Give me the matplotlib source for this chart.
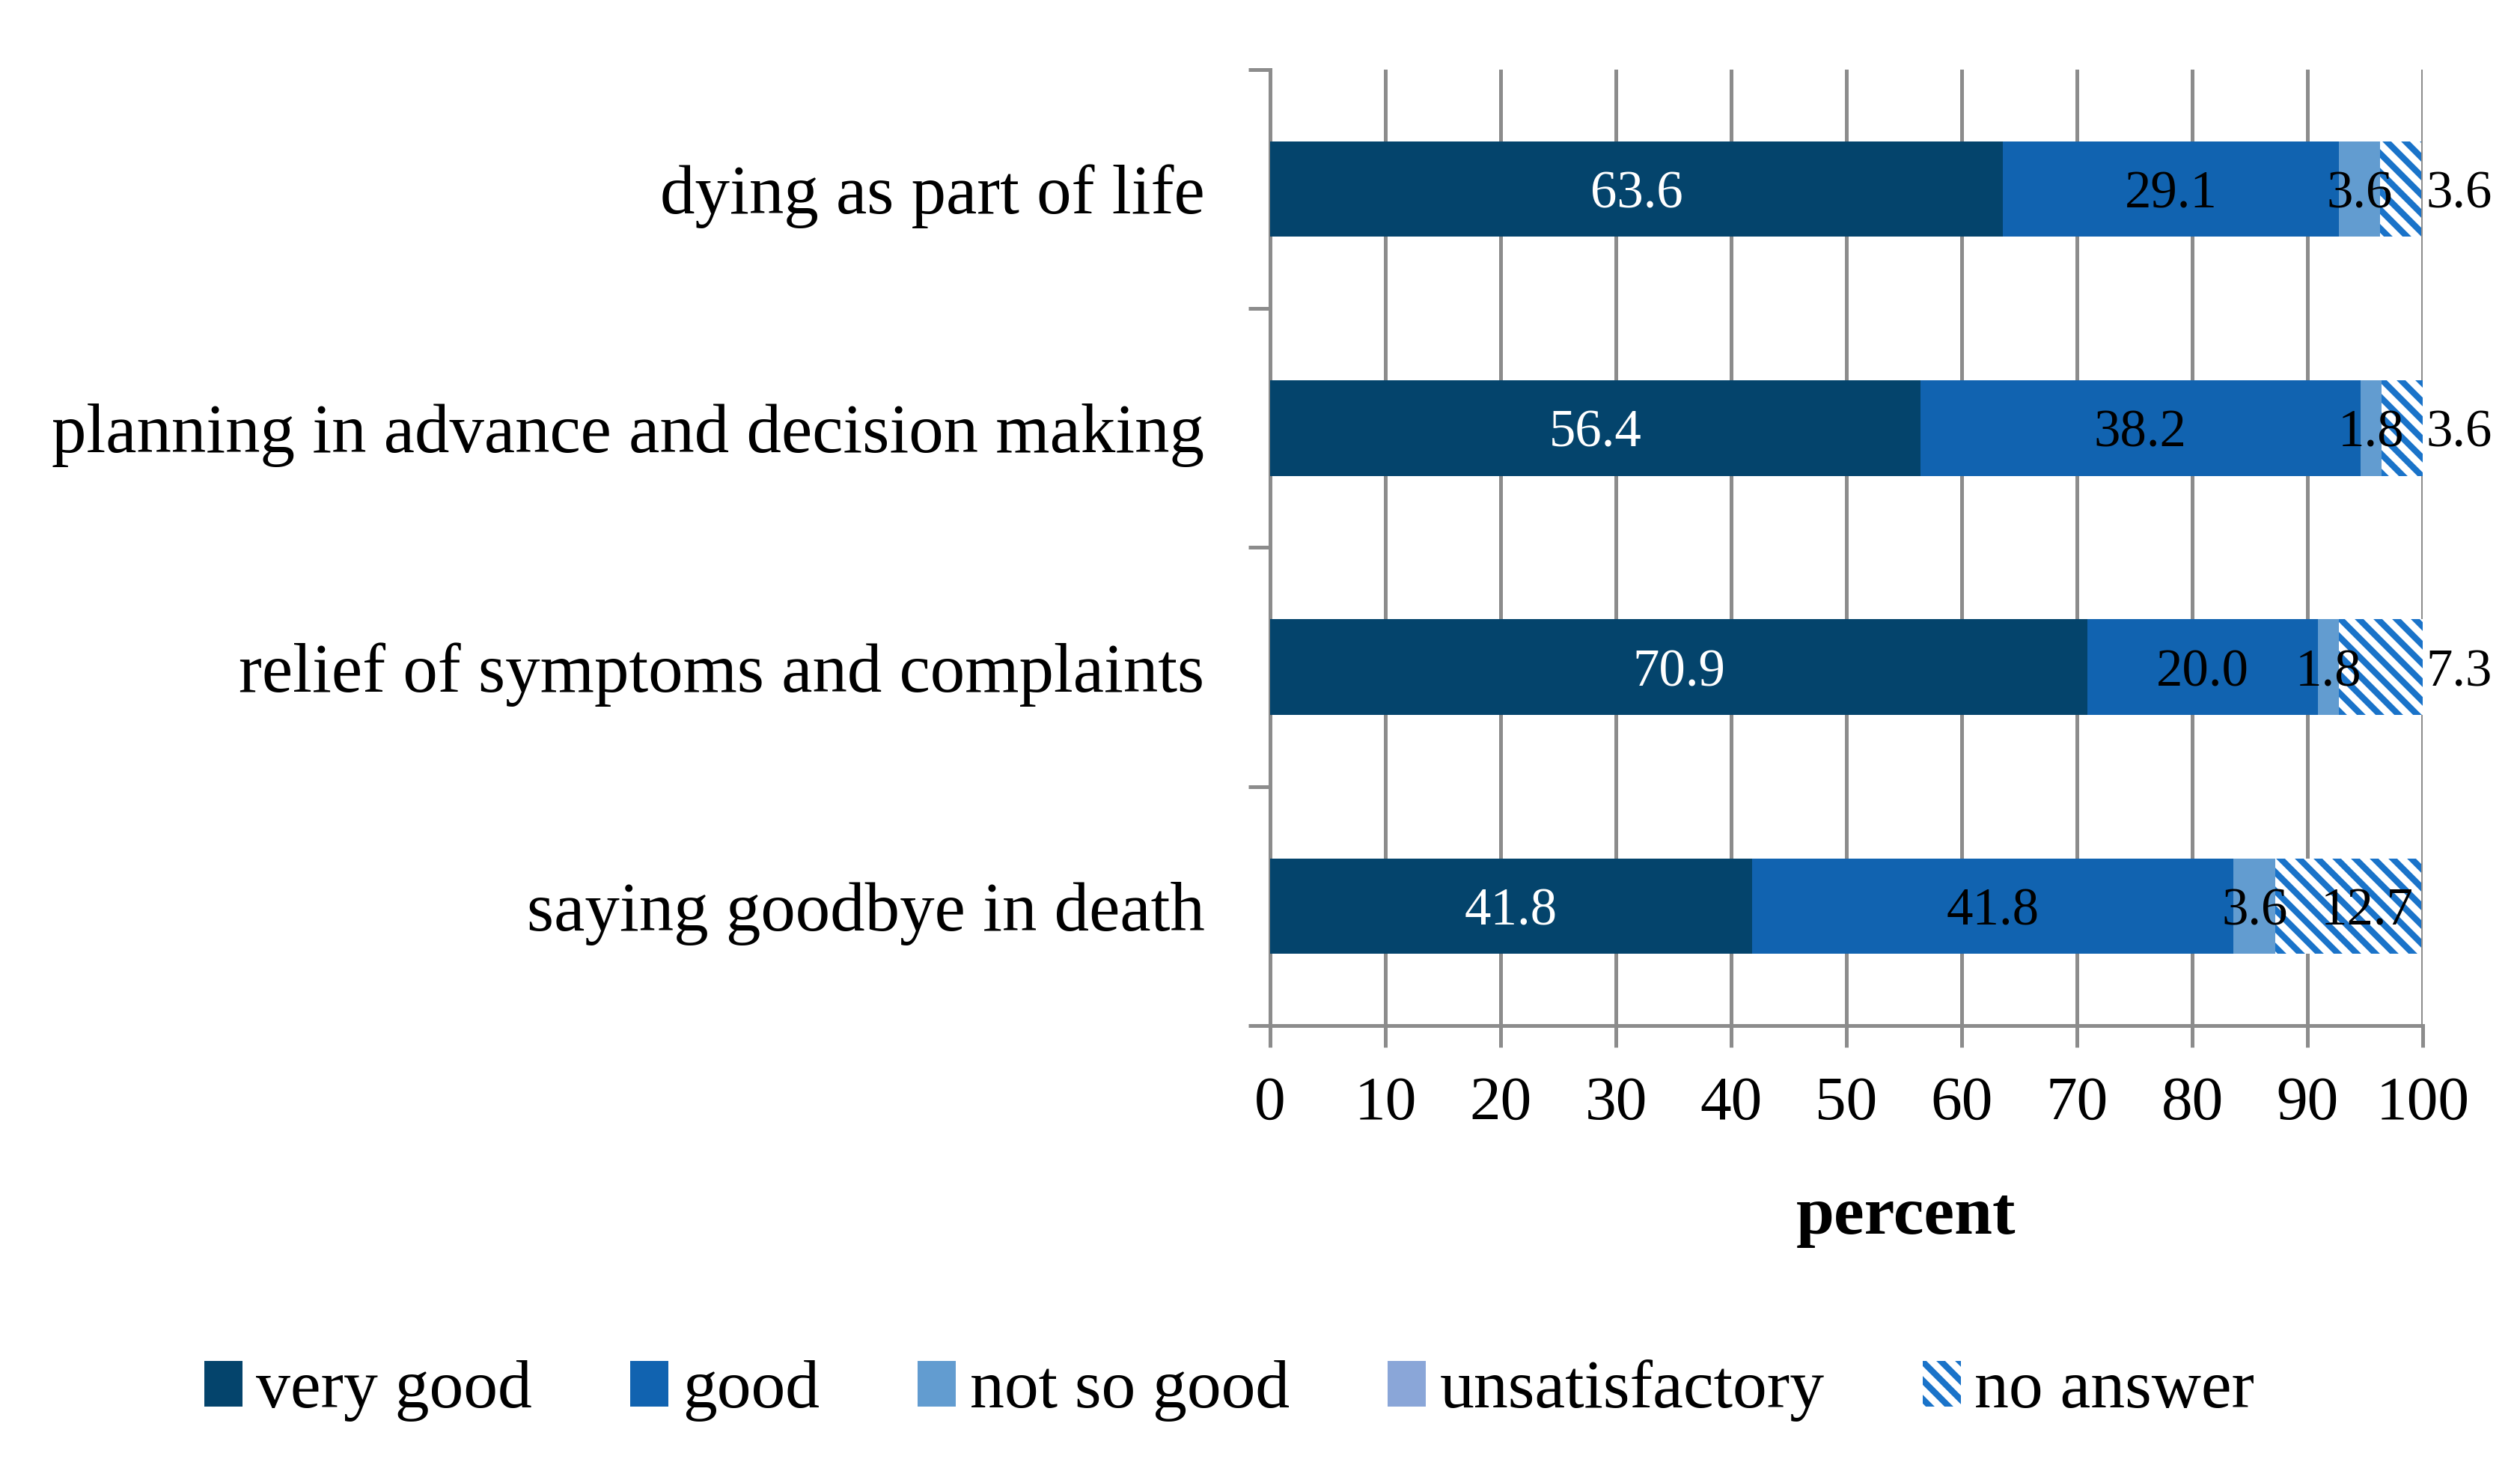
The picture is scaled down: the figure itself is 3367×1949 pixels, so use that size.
import matplotlib
matplotlib.use("Agg")
import matplotlib.pyplot as plt
import numpy as np
from matplotlib.patches import Patch

plt.rcParams['font.family'] = ['Liberation Serif', 'DejaVu Serif']
plt.rcParams['hatch.linewidth'] = 4.0

categories = ["dying as part of life",
              "planning in advance and decision making",
              "relief of symptoms and complaints",
              "saying goodbye in death"]
series_names = ["very good", "good", "not so good", "unsatisfactory", "no answer"]
very_good = [63.6, 56.4, 70.9, 41.8]
good = [29.1, 38.2, 20.0, 41.8]
not_so_good = [3.6, 1.8, 1.8, 3.6]
unsatisfactory = [0.0, 0.0, 0.0, 0.0]
no_answer = [3.6, 3.6, 7.3, 12.7]
x_ticks = [0, 10, 20, 30, 40, 50, 60, 70, 80, 90, 100]

series = [very_good, good, not_so_good, unsatisfactory, no_answer]
colors = ["#04446C", "#1163B0", "#629CD0", "#8AA6D8", "white"]
hatch_color = "#1A73C9"
HATCH = "\\\\"
label_colors = ["white", "black", "black", "black", "black"]

DPI = 150
fig = plt.figure(figsize=(3367 / DPI, 1949 / DPI), dpi=DPI)
ax = fig.add_axes([0.504, 0.297, 0.4574, 0.6554])

n = len(categories)
y = np.arange(n)
left = np.zeros(n)
grid_c = "#8C8C8C"
for i, (vals, name) in enumerate(zip(series, series_names)):
    vals = np.array(vals)
    if name == "no answer":
        ax.barh(y, vals, left=left, height=0.4, color="white",
                edgecolor=hatch_color, hatch=HATCH, linewidth=0, zorder=3)
    else:
        ax.barh(y, vals, left=left, height=0.4, color=colors[i],
                linewidth=0, zorder=3)
    for j, v in enumerate(vals):
        if v <= 0:
            continue
        if name == "no answer":
            if v < 10:
                ax.text(100.3, y[j], f"{v:.1f}", ha="left", va="center_baseline",
                        fontsize=34, color="black", zorder=5)
            else:
                ax.text(99.2, y[j], f"{v:.1f}", ha="right", va="center_baseline",
                        fontsize=34, color="black", zorder=5)
        else:
            ax.text(left[j] + v / 2, y[j], f"{v:.1f}", ha="center", va="center_baseline",
                    fontsize=34, color=label_colors[i], zorder=5)
    left = left + vals

ax.set_xlim(0, 100)
ax.set_ylim(n - 0.5, -0.5)
ax.set_xticks(x_ticks)
ax.set_xticklabels([str(t) for t in x_ticks], fontsize=40)
ax.set_yticks(y)
ax.set_yticklabels(categories, fontsize=44.6)
ax.tick_params(axis="y", which="major", length=0, pad=42)
ax.set_yticks(np.arange(n + 1) - 0.5, minor=True)
ax.tick_params(axis="y", which="minor", length=14, width=2.4, color=grid_c)
ax.tick_params(axis="x", which="major", length=14, width=2.4, color=grid_c, pad=18)
ax.xaxis.grid(True, color=grid_c, linewidth=2.4, zorder=0)
ax.set_axisbelow(True)
for s in ["top", "right"]:
    ax.spines[s].set_visible(False)
for s in ["left", "bottom"]:
    ax.spines[s].set_color(grid_c)
    ax.spines[s].set_linewidth(2.4)

ax.text(0.552, -0.2, "percent", transform=ax.transAxes, ha="center", va="center",
        fontsize=44, fontweight="bold")

handles = []
for i, name in enumerate(series_names):
    if name == "no answer":
        handles.append(Patch(facecolor="white", edgecolor=hatch_color, hatch=HATCH, linewidth=0))
    else:
        handles.append(Patch(facecolor=colors[i], linewidth=0))
fig.legend(handles, series_names, loc="center", bbox_to_anchor=(0.4878, 0.0467),
           ncol=5, frameon=False, fontsize=44, handlelength=0.56, handleheight=0.64,
           handletextpad=0.2, columnspacing=1.43)

fig.savefig("out.png", dpi=DPI, facecolor="white")
